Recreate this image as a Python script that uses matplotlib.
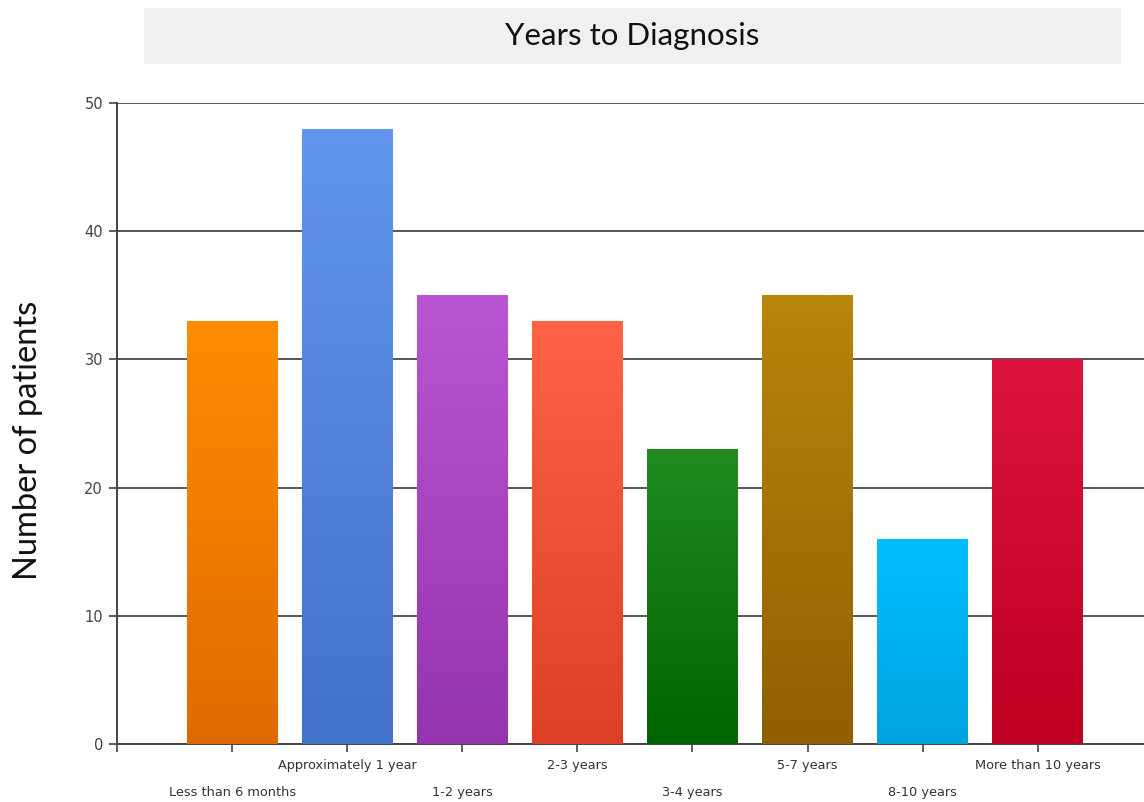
import numpy as np
import matplotlib
matplotlib.use("Agg")
import matplotlib.pyplot as plt
from matplotlib.patches import Rectangle
from matplotlib.colors import LinearSegmentedColormap

categories = ["Less than 6 months", "Approximately 1 year", "1-2 years", "2-3 years",
              "3-4 years", "5-7 years", "8-10 years", "More than 10 years"]
values = [33, 48, 35, 33, 23, 35, 16, 30]
top_colors = ["#FF8C00", "#6495ED", "#BA55D3", "#FF6347", "#228B22", "#B8860B", "#00BFFF", "#DC143C"]
bottom_colors = ["#DF6B00", "#4171C9", "#9633AE", "#DC3F24", "#006400", "#8F5F00", "#00A2E0", "#BD0021"]

fig = plt.figure(figsize=(11.44, 8.02), dpi=100)
ax = fig.add_axes([117/1144, 58/802, 1 - 117/1144, (744-103)/802])

x = np.arange(1, len(categories) + 1)
bars = ax.bar(x, values, width=0.79, color="none", edgecolor="none", zorder=3)
grad = np.linspace(0, 1, 256).reshape(-1, 1)
for b, tc, bc in zip(bars, top_colors, bottom_colors):
    cmap = LinearSegmentedColormap.from_list("g", [bc, tc])
    x0, y0 = b.get_x(), b.get_y()
    w, h = b.get_width(), b.get_height()
    im = ax.imshow(grad, cmap=cmap, origin="lower", aspect="auto",
                   extent=[x0, x0 + w, y0, y0 + h], zorder=3, interpolation="bilinear")
    im.set_clip_path(b)

ax.set_xlim(0, (1144-117)/115.1)
ax.set_ylim(0, 50)
ax.set_yticks([0, 10, 20, 30, 40, 50])
ax.yaxis.grid(True, color="#555555", linewidth=1.4, zorder=1)
ax.set_axisbelow(True)

# staggered category labels: upper row on major ticks, lower row on minor ticks
major_pos = [0] + [p for p in x if p % 2 == 0]
major_lab = [""] + [c for p, c in zip(x, categories) if p % 2 == 0]
minor_pos = [p for p in x if p % 2 == 1]
minor_lab = [c for p, c in zip(x, categories) if p % 2 == 1]
ax.set_xticks(major_pos)
ax.set_xticklabels(major_lab, fontsize=9.3, color="#333333", family="DejaVu Sans")
ax.set_xticks(minor_pos, minor=True)
ax.set_xticklabels(minor_lab, minor=True, fontsize=9.3, color="#333333", family="DejaVu Sans")
ax.tick_params(axis="x", which="major", length=6, width=1.2, color="#444444", pad=5)
ax.tick_params(axis="x", which="minor", length=6, width=1.2, color="#444444", pad=24.5)
ax.tick_params(axis="y", length=6, width=1.2, color="#444444", labelsize=10.5,
               labelcolor="#444444", pad=4)

for s in ["top", "right"]:
    ax.spines[s].set_visible(False)
for s in ["left", "bottom"]:
    ax.spines[s].set_color("#444444")
    ax.spines[s].set_linewidth(1.4)

fig.patches.append(Rectangle((144/1144, 1 - 64/802), (1121-144)/1144, 56/802,
                             transform=fig.transFigure, facecolor="#F0F0F0",
                             edgecolor="none", zorder=0))
fig.text(632/1144, 1 - 36/802, "Years to Diagnosis", ha="center", va="center",
         fontsize=22.5, family="Lato", color="#111111")
fig.text(28/1144, 1 - 440/802, "Number of patients", ha="center", va="center",
         rotation=90, fontsize=23.5, family="Lato", color="#111111")

fig.savefig("out.png", dpi=100)
